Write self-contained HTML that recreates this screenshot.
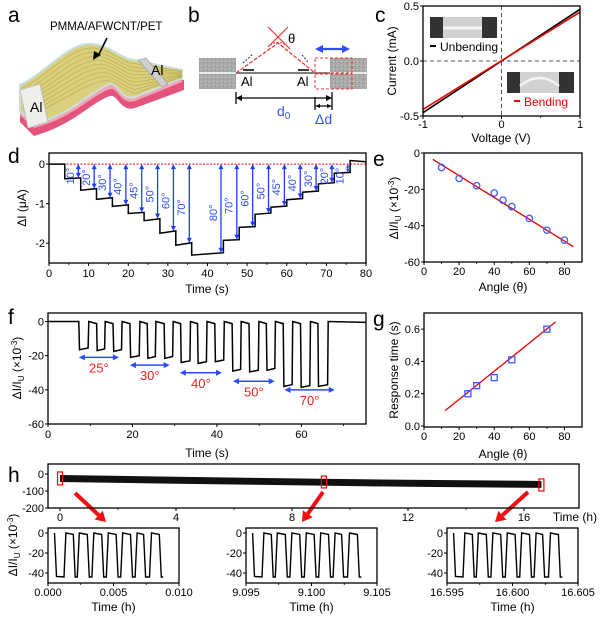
<!DOCTYPE html>
<html><head><meta charset="utf-8">
<style>
html,body{margin:0;padding:0;background:#fff;}
svg{display:block;font-family:"Liberation Sans",Arial,sans-serif;}
</style></head>
<body>
<svg id="fig" width="600" height="622" viewBox="0 0 600 622" xmlns="http://www.w3.org/2000/svg">
<g font-size="21" fill="#000">
<text x="8" y="22">a</text>
<text x="188" y="22">b</text>
<text x="375" y="22">c</text>
<text x="8" y="163">d</text>
<text x="373" y="166">e</text>
<text x="8" y="324">f</text>
<text x="373" y="326">g</text>
<text x="8" y="482">h</text>
</g>

<g id="pa">
<path d="M20,95 C45,85 68,52 92,54 C112,56 122,70 135,70 L184,80 L184,90 L135,108 C120,112 118,94 110,96 C90,103 75,124 34,136 L20,122 Z" fill="#e4547a"/>
<path d="M20,89 C45,78 68,46 92,48 C112,50 122,64 135,64 L182,74 L182,82 L135,101 C120,105 118,87 110,89 C90,96 75,117 34,128 L20,115 Z" fill="#f2a5b5"/>
<path d="M20,85 C45,74 68,42 92,44 C112,46 122,60 135,60 L182,70 L182,78 L135,97 C120,101 118,82 110,84 C90,91 75,113 34,124 L20,111 Z" fill="#d9cf7c" stroke="#c8dfe0" stroke-width="2"/>
<g id="stripes" stroke="#b9a94f" stroke-width="0.6" fill="none"></g>
<path d="M20,90 L40,84 L48,122 L28,128 Z" fill="#eeeeea" stroke="#bbb" stroke-width="0.8"/>
<path d="M138,60 L146,58 L168,84 L162,87 Z" fill="#cfcfcf" stroke="#999" stroke-width="0.6"/>
<text x="30" y="112" font-size="14">Al</text>
<text x="151" y="75" font-size="14">Al</text>
<text x="50" y="30" font-size="11.5">PMMA/AFWCNT/PET</text>
<line x1="107" y1="38" x2="98" y2="56" stroke="#000" stroke-width="1.6"/>
<path d="M93,60 L94,51 L101,55 Z" fill="#000"/>
</g>

<g id="pb">
<defs>
<pattern id="speck" width="4" height="4" patternUnits="userSpaceOnUse"><rect width="4" height="4" fill="#a9aaa8"/><rect x="1" y="1" width="1" height="1" fill="#cfd0ce"/><rect x="3" y="2" width="1" height="1" fill="#8d8e8c"/></pattern>
</defs>
<rect x="199" y="58" width="37" height="31" fill="url(#speck)"/>
<rect x="330" y="58" width="37" height="31" fill="url(#speck)"/>
<line x1="199" y1="73" x2="367" y2="73" stroke="#fff" stroke-width="1.5"/>
<line x1="236" y1="73" x2="330" y2="73" stroke="#555" stroke-width="1.5"/>
<rect x="315" y="58" width="37" height="15" fill="none" stroke="#e33" stroke-dasharray="3,2"/>
<rect x="315" y="74" width="37" height="15" fill="none" stroke="#e33" stroke-dasharray="3,2"/>
<polyline points="236,73 278,43 315,73" fill="none" stroke="#e33" stroke-width="1.2" stroke-dasharray="4,1.5"/>
<line x1="268" y1="27" x2="290" y2="49" stroke="#e33" stroke-width="1.2"/>
<line x1="288" y1="27" x2="268" y2="47" stroke="#e33" stroke-width="1.2"/>
<path d="M270,45 Q278,40 286,45" fill="none" stroke="#e33" stroke-dasharray="2,1.5"/>
<text x="288" y="43" font-size="13">θ</text>
<line x1="243" y1="63" x2="253" y2="54" stroke="#333" stroke-dasharray="2,1.5"/>
<line x1="302" y1="55" x2="309" y2="63" stroke="#333" stroke-dasharray="2,1.5"/>
<line x1="243" y1="70" x2="254" y2="70" stroke="#000" stroke-width="1.5"/>
<line x1="298" y1="70" x2="309" y2="70" stroke="#000" stroke-width="1.5"/>
<text x="241" y="86" font-size="13">Al</text>
<text x="297" y="86" font-size="13">Al</text>
<line x1="320" y1="49" x2="345" y2="49" stroke="#2f4bff" stroke-width="2.2"/>
<path d="M315,49 L323,45 L323,53 Z M350,49 L342,45 L342,53 Z" fill="#2f4bff"/>
<line x1="236" y1="92" x2="236" y2="104" stroke="#000" stroke-width="1.3"/>
<line x1="332" y1="92" x2="332" y2="110" stroke="#000" stroke-width="1.3"/>
<line x1="315" y1="97" x2="315" y2="110" stroke="#000" stroke-width="1.3"/>
<line x1="240" y1="98" x2="328" y2="98" stroke="#000" stroke-width="1.2"/>
<path d="M236,98 L242,95 L242,101 Z M332,98 L326,95 L326,101 Z" fill="#000"/>
<line x1="318" y1="106" x2="329" y2="106" stroke="#000" stroke-width="1.2"/>
<path d="M315,106 L320,104 L320,108 Z M332,106 L327,104 L327,108 Z" fill="#000"/>
<text x="277" y="116" font-size="14" fill="#3355ee">d<tspan font-size="10" dy="3">0</tspan></text>
<text x="315" y="124" font-size="14" fill="#3355ee">Δd</text>
</g>

<g id="charts"></g>
</svg>

<script>
// Panel c (I-V)
const cVoltage = [-1, 1];
const cUnbending = [-0.47, 0.47];
const cBending = [-0.44, 0.445];
// Panel d (step response)
const dStepStart = [0, 4, 8, 12, 16, 20, 24, 28, 32, 36, 44, 48, 52, 56, 60, 64, 68, 72, 76];
const dStepEnd = [4, 8, 12, 16, 20, 24, 28, 32, 36, 44, 48, 52, 56, 60, 64, 68, 72, 76, 80];
const dLevelStart = [0, -0.37, -0.66, -0.89, -1.07, -1.25, -1.43, -1.75, -2.05, -2.3, -1.93, -1.6, -1.27, -1.09, -0.9, -0.71, -0.5, -0.23, 0.09];
const dLevelEnd = [0, -0.35, -0.62, -0.85, -1.03, -1.22, -1.38, -1.69, -1.99, -2.24, -1.91, -1.58, -1.24, -1.06, -0.87, -0.68, -0.47, -0.21, 0.06];
const dAngles = ["10°","20°","30°","40°","45°","50°","60°","70°","80°","70°","60°","50°","45°","40°","30°","20°","10°"];
// Panel e
const eAngle = [10, 20, 30, 40, 45, 50, 60, 70, 80];
const eValue = [-8, -14, -18, -22, -26, -29.5, -36, -42.5, -48];
const eFitX = [5, 85];
const eFitY = [-3.5, -51.5];
// Panel f (pulses)
const fDown = [7.3, 11.5, 15.4, 19.4, 23.5, 27.5, 31.4, 35.4, 39.5, 43.6, 47.6, 51.7, 55.7, 59.8, 63.9];
const fUp = [9.5, 13.4, 17.4, 21.6, 25.4, 29.5, 33.6, 37.5, 41.6, 45.6, 49.8, 53.7, 57.8, 62.0, 66.2];
const fLow = [-16.5, -17, -17.5, -21, -21.5, -21.5, -24, -24.5, -23.5, -29, -29.5, -28.5, -38, -38.5, -38];
const fGroupLabel = ["25°", "30°", "40°", "50°", "70°"];
const fGroupStart = [7.3, 19.4, 31.2, 43.8, 56.0];
const fGroupEnd = [16.8, 28.8, 41.2, 53.7, 67.9];
const fGroupArrowY = [-21, -25.5, -30, -35, -40];
// Panel g
const gAngle = [25, 30, 40, 50, 70];
const gTime = [0.2, 0.25, 0.3, 0.41, 0.6];
const gFitX = [12, 75];
const gFitY = [0.095, 0.645];
// Panel h main
const hBandT = [0, 4, 8, 12, 16, 16.6];
const hBandTop = [-6, -16, -26, -34, -40, -41];
const hBandBot = [-47, -57, -66, -75, -81, -82];
const hRectT = [0, 9.1, 16.6];
const hRectTop = [12, -12, -29];
const hRectBot = [-64, -82, -100];
// Panel h insets (fractions of window)
const insHighStart = [0.137, 0.239, 0.35, 0.46, 0.57, 0.68, 0.79];
const insHighEnd = [0.193, 0.30, 0.41, 0.52, 0.63, 0.73, 0.85];
const insLow = -44;
const insHigh = 0;
const insStartLabels = ["0.000", "9.095", "16.595"];
const insMidLabels = ["0.005", "9.100", "16.600"];
const insEndLabels = ["0.010", "9.105", "16.605"];

const NS = "http://www.w3.org/2000/svg";
const root = document.getElementById('charts');
function mk(tag, attrs, parent, name, inter) {
  const e = document.createElementNS(NS, tag);
  for (const k in attrs) e.setAttribute(k, attrs[k]);
  
  
  (parent || root).appendChild(e);
  return e;
}
function txt(x, y, s, size, parent, name, anchor, fill, rot) {
  const a = {x: x, y: y, 'font-size': size, 'text-anchor': anchor || 'middle', fill: fill || '#000'};
  if (rot) a.transform = 'rotate(' + rot + ' ' + x + ' ' + y + ')';
  const t = mk('text', a, parent, name, false);
  t.textContent = s;
  return t;
}
function lin(d0, d1, r0, r1) { return v => r0 + (v - d0) / (d1 - d0) * (r1 - r0); }
function frame(g, x0, y0, x1, y1, name) {
  mk('rect', {x: x0, y: y0, width: x1 - x0, height: y1 - y0, fill: 'none', stroke: '#000', 'stroke-width': 1.3}, g, name, false);
}
function xTicks(g, sx, vals, labels, yb, ly, size, minor) {
  vals.forEach((v, i) => {
    mk('line', {x1: sx(v), y1: yb, x2: sx(v), y2: yb + 3, stroke: '#000', 'stroke-width': 1}, g, 'x-tick', false);
    if (labels[i] !== '') txt(sx(v), ly, labels[i], size, g, 'x-tick-label');
  });
  (minor || []).forEach(v => {
    mk('line', {x1: sx(v), y1: yb, x2: sx(v), y2: yb + 2, stroke: '#000', 'stroke-width': 0.8}, g, 'x-minor-tick', false);
  });
}
function yTicks(g, sy, vals, labels, xl, size) {
  vals.forEach((v, i) => {
    mk('line', {x1: xl - 3, y1: sy(v), x2: xl, y2: sy(v), stroke: '#000', 'stroke-width': 1}, g, 'y-tick', false);
    txt(xl - 4, sy(v) + 4, labels[i], size, g, 'y-tick-label', 'end');
  });
}
const yTitleHTML = 'ΔI/I<tspan font-size="8" dy="3">U</tspan><tspan dy="-3"> (×10</tspan><tspan font-size="8" dy="-4">-3</tspan><tspan dy="4">)</tspan>';

// PANEL C
(function () {
  const g = mk('g', {}, root, 'iv-chart', false);
  const sx = lin(-1, 1, 423, 580), sy = lin(-0.5, 0.5, 116, 6);
  mk('line', {x1: sx(0), y1: 6, x2: sx(0), y2: 116, stroke: '#555', 'stroke-dasharray': '4,3'}, g, 'zero-voltage-line', false);
  mk('line', {x1: 423, y1: sy(0), x2: 580, y2: sy(0), stroke: '#555', 'stroke-dasharray': '4,3'}, g, 'zero-current-line', false);
  mk('rect', {x: 430, y: 17, width: 67, height: 21, fill: '#cfd2cf'}, g, 'unbending-photo', false);
  mk('rect', {x: 430, y: 17, width: 13, height: 21, fill: '#333'}, g, 'photo-clamp', false);
  mk('rect', {x: 482, y: 17, width: 15, height: 21, fill: '#333'}, g, 'photo-clamp', false);
  mk('line', {x1: 443, y1: 28, x2: 482, y2: 28, stroke: '#f4f4f4', 'stroke-width': 3}, g, 'photo-film', false);
  mk('rect', {x: 507, y: 72, width: 67, height: 21, fill: '#cfd2cf'}, g, 'bending-photo', false);
  mk('rect', {x: 507, y: 72, width: 13, height: 21, fill: '#333'}, g, 'photo-clamp', false);
  mk('rect', {x: 559, y: 72, width: 15, height: 21, fill: '#333'}, g, 'photo-clamp', false);
  mk('path', {d: 'M520,86 Q540,70 559,86', stroke: '#f4f4f4', 'stroke-width': 2.5, fill: 'none'}, g, 'photo-bent-film', false);
  const ln = (ys, col, name) => {
    mk('line', {x1: sx(cVoltage[0]), y1: sy(ys[0]), x2: sx(cVoltage[1]), y2: sy(ys[1]), stroke: col, 'stroke-width': 1.6}, g, name, false);
  };
  ln(cUnbending, '#000', 'unbending-line');
  ln(cBending, '#e00', 'bending-line');
  mk('line', {x1: 430, y1: 46, x2: 436, y2: 46, stroke: '#000', 'stroke-width': 2}, g, 'legend-unbending-swatch', false);
  txt(440, 51, 'Unbending', 12, g, 'legend-unbending-label', 'start');
  mk('line', {x1: 514, y1: 101, x2: 520, y2: 101, stroke: '#e00', 'stroke-width': 2}, g, 'legend-bending-swatch', false);
  txt(524, 106, 'Bending', 12, g, 'legend-bending-label', 'start', '#e00');
  frame(g, 423, 6, 580, 116, 'iv-frame');
  xTicks(g, sx, [-1, 0, 1], ['-1', '0', '1'], 116, 128, 11, [-0.5, 0.5]);
  yTicks(g, sy, [0.5, 0, -0.5], ['0.5', '0.0', '-0.5'], 423, 11);
  txt(501, 142, 'Voltage (V)', 12, g, 'x-axis-title');
  txt(396, 61, 'Current (mA)', 12, g, 'y-axis-title', 'middle', '#000', -90);
})();

// PANEL D
(function () {
  const g = mk('g', {}, root, 'step-response-chart', false);
  const sx = lin(0, 80, 49, 366), sy = lin(-2.5, 0.28, 263, 153);
  mk('line', {x1: 49, y1: sy(0), x2: 366, y2: sy(0), stroke: '#e00', 'stroke-width': 1, 'stroke-dasharray': '2,1.5'}, g, 'baseline-zero', false);
  let d = '';
  for (let i = 0; i < dStepStart.length; i++) {
    d += (i === 0 ? 'M' : 'L') + sx(dStepStart[i]).toFixed(1) + ',' + sy(dLevelStart[i]).toFixed(1) +
         ' L' + sx(dStepEnd[i]).toFixed(1) + ',' + sy(dLevelEnd[i]).toFixed(1) + ' ';
  }
  mk('path', {d: d, fill: 'none', stroke: '#000', 'stroke-width': 1.5}, g, 'current-trace', false);
  for (let i = 1; i <= dAngles.length; i++) {
    const ax = sx(dStepEnd[i] - 0.6), y0 = sy(0), y1 = sy(dLevelEnd[i]);
    const ag = mk('g', {}, g, 'angle-arrow', false);
    mk('line', {x1: ax, y1: y0 + 3, x2: ax, y2: y1 - 3, stroke: '#1f3cff', 'stroke-width': 1.3}, ag, 'angle-arrow-shaft', false);
    mk('path', {d: `M${ax},${y0} l-2.5,5 l5,0 Z M${ax},${y1} l-2.5,-5 l5,0 Z`, fill: '#1f3cff'}, ag, 'angle-arrow-heads', false);
    const lx = sx(dStepEnd[i] - 2.4);
    const ly = Math.max(y0 + 12, y0 + (y1 - y0) * 0.55);
    txt(lx + 3, ly, dAngles[i - 1], 11, ag, 'angle-label', 'middle', '#2a4cff', -90);
  }
  frame(g, 49, 153, 366, 263, 'step-frame');
  xTicks(g, sx, [0, 10, 20, 30, 40, 50, 60, 70, 80], ['0','10','20','30','40','50','60','70','80'], 263, 277, 11, [5,15,25,35,45,55,65,75]);
  yTicks(g, sy, [0, -1, -2], ['0', '-1', '-2'], 49, 11);
  txt(207, 293, 'Time (s)', 12, g, 'x-axis-title');
  txt(26, 208, 'ΔI (μA)', 12, g, 'y-axis-title', 'middle', '#000', -90);
})();

// PANEL E
(function () {
  const g = mk('g', {}, root, 'angle-response-chart', false);
  const sx = lin(0, 90, 424, 582), sy = lin(-60, 0, 262, 153);
  mk('line', {x1: sx(eFitX[0]), y1: sy(eFitY[0]), x2: sx(eFitX[1]), y2: sy(eFitY[1]), stroke: '#e00', 'stroke-width': 1.3}, g, 'fit-line', false);
  eAngle.forEach((a, i) => {
    mk('circle', {cx: sx(a), cy: sy(eValue[i]), r: 3.2, fill: 'none', stroke: '#3d5bff', 'stroke-width': 1.3}, g, 'data-point', false);
  });
  frame(g, 424, 153, 582, 262, 'e-frame');
  xTicks(g, sx, [0, 20, 40, 60, 80], ['0','20','40','60','80'], 262, 275, 11, [10,30,50,70]);
  yTicks(g, sy, [0, -20, -40, -60], ['0','-20','-40','-60'], 424, 11);
  txt(503, 291, 'Angle (θ)', 12, g, 'x-axis-title');
  const t = txt(398, 208, '', 12, g, 'y-axis-title', 'middle', '#000', -90);
  t.innerHTML = yTitleHTML;
})();

// PANEL F
(function () {
  const g = mk('g', {}, root, 'cyclic-response-chart', false);
  const sx = lin(0, 75.3, 48, 366), sy = lin(-60, 5, 424, 313);
  let d = 'M' + sx(0) + ',' + sy(0);
  for (let i = 0; i < fDown.length; i++) {
    d += ' L' + sx(fDown[i]).toFixed(1) + ',' + sy(i === 0 ? 0 : -1.2).toFixed(1);
    d += ' L' + sx(fDown[i] + 0.15).toFixed(1) + ',' + sy(fLow[i]).toFixed(1);
    d += ' L' + sx(fUp[i]).toFixed(1) + ',' + sy(fLow[i] + 1).toFixed(1);
    d += ' L' + sx(fUp[i] + 0.15).toFixed(1) + ',' + sy(0).toFixed(1);
  }
  d += ' L' + sx(75.3).toFixed(1) + ',' + sy(-0.5).toFixed(1);
  mk('path', {d: d, fill: 'none', stroke: '#000', 'stroke-width': 1.5}, g, 'response-trace', false);
  fGroupLabel.forEach((lab, i) => {
    const y = sy(fGroupArrowY[i]), x0 = sx(fGroupStart[i]), x1 = sx(fGroupEnd[i]);
    mk('line', {x1: x0 + 4, y1: y, x2: x1 - 4, y2: y, stroke: '#2a4cff', 'stroke-width': 1.5}, g, 'group-arrow', false);
    mk('path', {d: `M${x0},${y} l6,-3 l0,6 Z M${x1},${y} l-6,-3 l0,6 Z`, fill: '#2a4cff'}, g, 'group-arrow-heads', false);
    txt((x0 + x1) / 2, y + 15, lab, 13, g, 'group-angle-label', 'middle', '#f02020');
  });
  frame(g, 48, 313, 366, 424, 'f-frame');
  xTicks(g, sx, [0, 20, 40, 60], ['0','20','40','60'], 424, 438, 11, [10,30,50,70]);
  yTicks(g, sy, [0, -20, -40, -60], ['0','-20','-40','-60'], 48, 11);
  txt(207, 457, 'Time (s)', 12, g, 'x-axis-title');
  const t = txt(21, 368, '', 12, g, 'y-axis-title', 'middle', '#000', -90);
  t.innerHTML = yTitleHTML;
})();

// PANEL G
(function () {
  const g = mk('g', {}, root, 'response-time-chart', false);
  const sx = lin(0, 90, 424, 582), sy = lin(0, 0.7, 426, 313);
  mk('line', {x1: sx(gFitX[0]), y1: sy(gFitY[0]), x2: sx(gFitX[1]), y2: sy(gFitY[1]), stroke: '#e00', 'stroke-width': 1.3}, g, 'fit-line', false);
  gAngle.forEach((a, i) => {
    mk('rect', {x: sx(a) - 3, y: sy(gTime[i]) - 3, width: 6, height: 6, fill: 'none', stroke: '#3d5bff', 'stroke-width': 1.3}, g, 'data-point', false);
  });
  frame(g, 424, 313, 582, 427, 'g-frame');
  xTicks(g, sx, [0, 20, 40, 60, 80], ['0','20','40','60','80'], 427, 440, 11, [10,30,50,70]);
  yTicks(g, sy, [0, 0.2, 0.4, 0.6], ['0.0','0.2','0.4','0.6'], 424, 11);
  txt(503, 458, 'Angle (θ)', 12, g, 'x-axis-title');
  txt(398, 370, 'Response time (s)', 12, g, 'y-axis-title', 'middle', '#000', -90);
})();

// PANEL H
(function () {
  const g = mk('g', {}, root, 'long-term-chart', false);
  const sx = lin(0, 16, 60, 524), sy = lin(-200, 0, 508, 474);
  let p = '';
  hBandT.forEach((t, i) => { p += sx(t).toFixed(1) + ',' + sy(hBandTop[i]).toFixed(1) + ' '; });
  for (let i = hBandT.length - 1; i >= 0; i--) p += sx(hBandT[i]).toFixed(1) + ',' + sy(hBandBot[i]).toFixed(1) + ' ';
  mk('polygon', {points: p, fill: '#111'}, g, 'cycling-band', false);
  hRectT.forEach((t, i) => {
    mk('rect', {x: sx(t) - 2.5, y: sy(hRectTop[i]), width: 5, height: sy(hRectBot[i]) - sy(hRectTop[i]), fill: 'none', stroke: '#f00', 'stroke-width': 1.2}, g, 'zoom-marker', false);
  });
  const arrows = [[75, 493, 106, 522], [323, 492, 302, 522], [528, 492, 495, 522]];
  arrows.forEach(a => {
    const [x1, y1, x2, y2] = a;
    const ang = Math.atan2(y2 - y1, x2 - x1), L = 10;
    const bx = x2 - L * Math.cos(ang), by = y2 - L * Math.sin(ang);
    const nx = -Math.sin(ang) * 6, ny = Math.cos(ang) * 6;
    mk('line', {x1: x1, y1: y1, x2: bx, y2: by, stroke: '#f01010', 'stroke-width': 4}, g, 'zoom-arrow', false);
    mk('polygon', {points: `${x2},${y2} ${bx + nx},${by + ny} ${bx - nx},${by - ny}`, fill: '#f01010'}, g, 'zoom-arrow-head', false);
  });
  frame(g, 48, 464, 579, 508, 'h-frame');
  xTicks(g, sx, [0, 4, 8, 12, 16], ['0','4','8','12','16'], 508, 521, 11, [2,6,10,14]);
  yTicks(g, sy, [0, -100, -200], ['0','-100','-200'], 48, 11);
  txt(575, 521, 'Time (h)', 12, g, 'x-axis-title');
  const t = txt(17, 545, '', 12, g, 'y-axis-title', 'middle', '#000', -90);
  t.innerHTML = yTitleHTML;

  const insetX = [48, 246, 447];
  const insetW = 131;
  insetX.forEach((x0, k) => {
    const ig = mk('g', {}, g, 'inset-chart', false);
    const ix = lin(0, 1, x0, x0 + insetW), iy = lin(-50, 5, 583, 528);
    let d = 'M' + ix(0.05).toFixed(1) + ',' + iy(insHigh).toFixed(1) + ' L' + ix(0.065).toFixed(1) + ',' + iy(insLow + 0.5).toFixed(1);
    for (let i = 0; i < insHighStart.length; i++) {
      d += ' L' + ix(insHighStart[i] - 0.015).toFixed(1) + ',' + iy(insLow).toFixed(1);
      d += ' L' + ix(insHighStart[i]).toFixed(1) + ',' + iy(insHigh).toFixed(1);
      d += ' L' + ix(insHighEnd[i]).toFixed(1) + ',' + iy(insHigh - 1.5).toFixed(1);
      d += ' L' + ix(insHighEnd[i] + 0.015).toFixed(1) + ',' + iy(insLow).toFixed(1);
    }
    d += ' L' + ix(0.88).toFixed(1) + ',' + iy(insLow).toFixed(1);
    mk('path', {d: d, fill: 'none', stroke: '#000', 'stroke-width': 1.4}, ig, 'inset-trace', false);
    frame(ig, x0, 528, x0 + insetW, 583, 'inset-frame');
    xTicks(ig, ix, [0, 0.5, 1], [insStartLabels[k], insMidLabels[k], insEndLabels[k]], 583, 596, 11, [0.25, 0.75]);
    yTicks(ig, iy, [0, -20, -40], ['0', '-20', '-40'], x0, 11);
    txt(x0 + insetW / 2, 611, 'Time (h)', 12, ig, 'inset-x-axis-title');
  });
})();

// Panel a stripes
(function () {
  const g = document.getElementById('stripes');
  for (let k = 1; k <= 9; k++) {
    const f = k / 10;
    mk('path', {d: `M${20 + f * 12},${85 + f * 34} C${45 + f * 20},${74 + f * 30} ${68 + f * 20},${42 + f * 45} ${92 + f * 18},${44 + f * 40} C${112 + f * 5},${46 + f * 40} ${122 + f * 5},${60 + f * 35} ${135},${60 + f * 37} L182,${70 + f * 8}`}, g, 'cnt-stripe', false);
  }
})();
</script>
</body></html>
